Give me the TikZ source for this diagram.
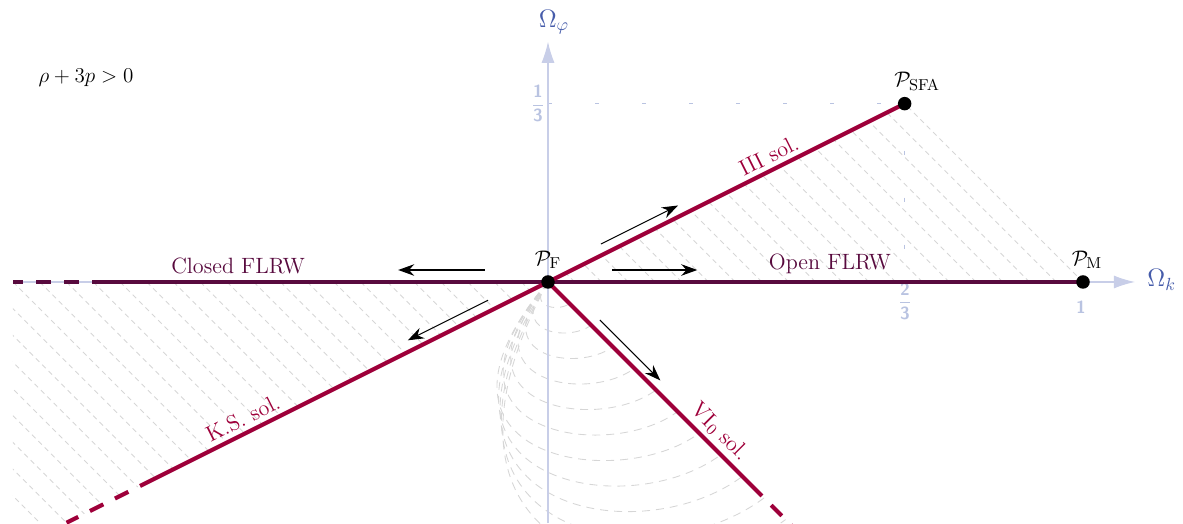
\documentclass[tikz,border=0pt]{standalone}
\usepackage{amsmath}
\usepackage{tikz}
\usetikzlibrary{arrows.meta,positioning}

\definecolor{flrwcol}{RGB}{88,10,62}
\definecolor{solcol}{RGB}{158,0,58}
\definecolor{axcol}{RGB}{200,206,232}
\definecolor{axlabcol}{RGB}{70,92,170}
\definecolor{tickcol}{RGB}{185,195,225}
\definecolor{hatchcol}{RGB}{214,214,214}

\begin{document}
\begin{tikzpicture}[
    x=10.7cm, y=10.7cm,
    axisline/.style={axcol, line width=0.6pt, -{Latex[length=0.42cm,width=0.26cm]}},
    hatchline/.style={hatchcol, line width=0.5pt, dash pattern=on 0.1cm off 0.08cm},
    arcline/.style={hatchcol, line width=0.5pt, dash pattern=on 0.16cm off 0.12cm},
    guide/.style={tickcol, line width=0.6pt, dash pattern=on 0.08cm off 0.86cm},
    flrwline/.style={flrwcol, line width=2.3pt},
    solline/.style={solcol, line width=2.3pt},
    tail/.style={dash pattern=on 0.3cm off 0.26cm, dash phase=0.3cm},
    flow/.style={black, line width=0.6pt, -{Stealth[length=0.32cm,width=0.23cm]}},
    pt/.style={circle, fill=black, inner sep=0pt, minimum size=0.27cm},
    lab/.style={font=\fontsize{12.6}{15}\selectfont},
    ticklab/.style={text=tickcol, font=\normalsize\sffamily\bfseries}
]
    \useasboundingbox (-1.0243,-0.4505) rectangle (1.1869,0.5271);
    \clip (-1.0243,-0.4505) rectangle (1.1869,0.5271);

    % fixed points and line ends
    \coordinate (PF) at (0,0);
    \coordinate (PSFA) at (2/3,1/3);
    \coordinate (PM) at (1,0);
    \coordinate (FLend) at (-0.852,0);
    \coordinate (FLtip) at (-1,0);
    \coordinate (KSend) at (-0.7626,-0.3813);
    \coordinate (KStip) at (-0.9,-0.45);
    \coordinate (VIend) at (0.4,-0.4);
    \coordinate (VItip) at (0.47,-0.47);
    \coordinate (Y13) at (0,1/3);
    \coordinate (X23) at (2/3,0);

    % hatching
    \begin{scope}
        \clip (PF) -- (PSFA) -- (PM) -- cycle;
        \foreach \i in {1,...,19}
            \draw[hatchline] ({0.05*\i},0) -- ++(-0.4,0.4);
    \end{scope}
    \draw[hatchline] (PM) -- (PSFA);
    \begin{scope}
        \clip (FLtip) -- (PF) -- (KStip) -- (-1,-0.45) -- cycle;
        \foreach \i in {1,...,30}
            \draw[hatchline] ({-0.05*\i},0) -- ++(0.5,-0.5);
    \end{scope}

    % arcs below P_F
    \foreach \k in {1,...,11} {
        \pgfmathsetmacro{\D}{0.0425*\k}
        \pgfmathsetmacro{\L}{min(0.96*\D,0.28)}
        \draw[arcline] (PF) .. controls ({-\L},{-1.11*\D}) and ({0.44*\D},{-1.33*\D}) .. ({0.95*\D},{-0.95*\D});
    }

    % guides
    \draw[guide] (Y13) -- (PSFA);
    \draw[guide] (PSFA) -- (X23);

    % axes
    \draw[axisline] (FLtip) -- (1.097,0);
    \draw[axisline] (0,-0.4505) -- (0,0.449);
    \node[text=axlabcol, font=\Large] (omk) at (1.147,0.004) {$\Omega_k$};
    \node[text=axlabcol, font=\Large] (omphi) at (0.011,0.486) {$\Omega_\varphi$};
    \node[ticklab] (t13) at (-0.0187,1/3) {$\dfrac{\text{1}}{\text{3}}$};
    \node[ticklab] (t23) at (0.667,-0.0355) {$\dfrac{\text{2}}{\text{3}}$};
    \node[ticklab] (t1) at (0.996,-0.047) {1};

    % FLRW
    \draw[flrwline] (FLend) -- (PF) node[pos=0.32, above, lab, text=flrwcol] {Closed FLRW};
    \draw[flrwline, tail] (FLend) -- (FLtip);
    \draw[flrwline] (PF) -- (PM) node[pos=0.527, above, lab, text=flrwcol] {Open FLRW};

    % solutions
    \draw[solline] (PF) -- (PSFA) node[pos=0.637, sloped, above, lab, text=solcol, inner sep=2.5pt] {III sol.};
    \draw[solline] (KSend) -- (PF) node[pos=0.268, sloped, above, lab, text=solcol, inner sep=2.5pt] {K.S. sol.};
    \draw[solline, tail] (KSend) -- (KStip);
    \draw[solline] (PF) -- (VIend) node[pos=0.752, sloped, above, lab, text=solcol, inner sep=2.5pt] {VI$_0$ sol.};
    \draw[solline, tail] (VIend) -- (VItip);

    % flow
    \draw[flow] ([shift={(-0.118,0.0224)}]PF) -- ++(-0.162,0);
    \draw[flow] ([shift={(0.12,0.0224)}]PF) -- ++(0.159,0);
    \draw[flow] ([shift={(0.099,0.071)}]PF) -- ++(0.144,0.072);
    \draw[flow] ([shift={(-0.112,-0.034)}]PF) -- ++(-0.15,-0.075);
    \draw[flow] ([shift={(0.097,-0.071)}]PF) -- ++(0.113,-0.113);

    % points
    \node[pt] (dotF) at (PF) {};
    \node[pt] (dotSFA) at (PSFA) {};
    \node[pt] (dotM) at (PM) {};
    \node[lab, above=0pt of dotF] (labF) {$\mathcal{P}_{\mathrm{F}}$};
    \node[lab, above=0pt of dotSFA, xshift=0.25cm] (labSFA) {$\mathcal{P}_{\mathrm{SFA}}$};
    \node[lab, above=0pt of dotM, xshift=0.08cm] (labM) {$\mathcal{P}_{\mathrm{M}}$};

    \node[lab] (cond) at (-0.8636,0.3813) {$\rho+3p>0$};
\end{tikzpicture}
\end{document}
